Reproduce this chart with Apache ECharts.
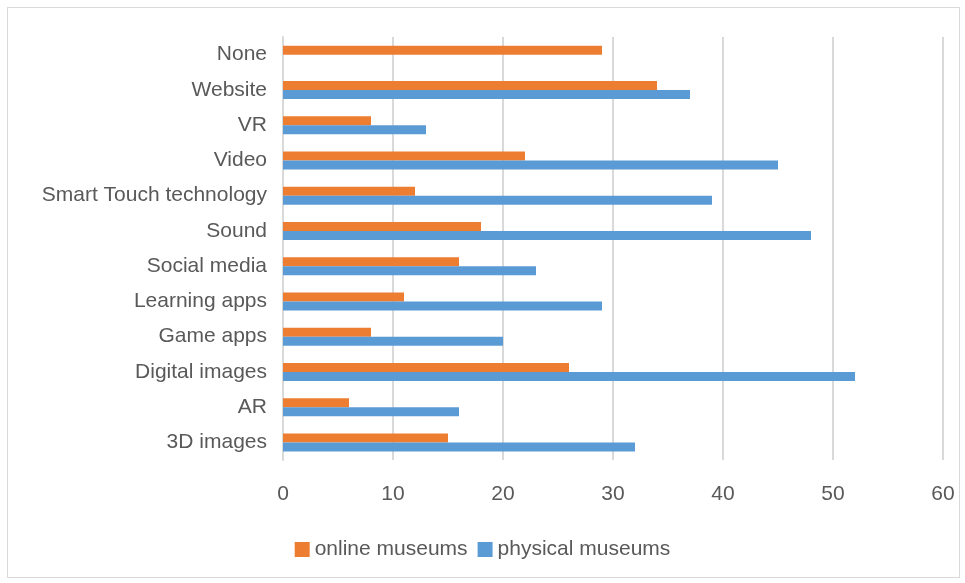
<!DOCTYPE html>
<html><head><meta charset="utf-8">
<script src="https://cdn.jsdelivr.net/npm/echarts@6/dist/echarts.min.js"></script>
<style>html,body{margin:0;padding:0;background:#fff}
#frame{position:absolute;left:7px;top:7px;width:953px;height:571px;border:1.5px solid #d9d9d9;box-sizing:border-box}
#c{position:absolute;left:0;top:0;width:965px;height:583px}</style>
</head><body><div id="frame"></div><div id="c"></div>
<script>
const categories = ['3D images','AR','Digital images','Game apps','Learning apps','Social media','Sound','Smart Touch technology','Video','VR','Website','None'];
const online = [15,6,26,8,11,16,18,12,22,8,34,29];
const physical = [32,16,52,20,29,23,48,39,45,13,37,0];
const xTicks = {min:0,max:60,interval:10};
const chart = echarts.init(document.getElementById('c'));
const font = 'Liberation Sans';
chart.setOption({
  animation:false,
  grid:{left:283,right:22,top:37,bottom:123,containLabel:false},
  legend:{data:['online museums','physical museums'],bottom:18,left:'center',itemWidth:15,itemHeight:15,itemGap:10,
    icon:'rect',textStyle:{color:'#595959',fontSize:21,fontFamily:font}},
  xAxis:{type:'value',min:xTicks.min,max:xTicks.max,interval:xTicks.interval,
    axisLine:{show:false},axisTick:{show:false},
    axisLabel:{color:'#595959',fontSize:21,fontFamily:font,margin:24},
    splitLine:{lineStyle:{color:'#d9d9d9',width:2}}},
  yAxis:{type:'category',data:categories,
    axisLine:{show:true,lineStyle:{color:'#d9d9d9',width:2}},axisTick:{show:false},
    axisLabel:{color:'#595959',fontSize:21,fontFamily:font,margin:16,padding:[3,0,0,0]}},
  series:[
    {name:'online museums',type:'bar',data:online,barWidth:9,barGap:'0%',itemStyle:{color:'#ED7D31'}},
    {name:'physical museums',type:'bar',data:physical,barWidth:9,barGap:'0%',itemStyle:{color:'#5B9BD5'}}
  ]
});
</script></body></html>
